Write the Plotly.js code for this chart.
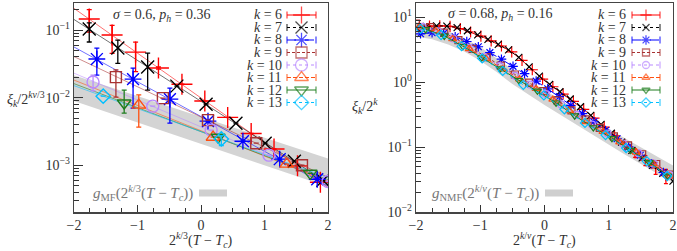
<!DOCTYPE html>
<html><head><meta charset="utf-8">
<script src="https://cdn.plot.ly/plotly-3.0.1.min.js"></script>
<style>html,body{margin:0;padding:0;background:#fff}#chart{width:677px;height:251px}</style>
</head><body><div id="chart"></div>
<script>
// ---------- series meta ----------
const kLabels = ['6','7','8','9','10','11','12','13'];
const colors = ['#ff0000','#000000','#0000ff','#a83232','#b98aff','#ff5010','#1e7d1e','#00bfff'];
const symbols = ['cross-thin-open','x-thin-open','asterisk-open','square-open','circle-open','triangle-up-open','triangle-down-open','diamond-open'];
const dashes = ['solid','dot','dash','3px,2px','dot','4px,2px','solid','dot'];

// ---------- LEFT panel data (sigma=0.6, ph=0.36) ----------
const leftX6 = [-1.76,-1.40,-1.03,-0.67,-0.30,0.06,0.42,0.79,1.15,1.52,1.88];
const leftY6 = [0.146,0.0843,0.0472,0.0274,0.0158,0.0089,0.0051,0.00295,0.00174,0.00098,0.00056];
const leftEp6 = [0.054,0.033,0.019,0.001,0,0,0,0,0,0,0];
const leftEm6 = [0.053,0.039,0.023,0.001,0,0,0,0,0,0,0];
const leftX7 = [-1.76,-1.31,-0.84,-0.38,0.08,0.55,1.01,1.47,1.92];
const leftY7 = [0.1035,0.0541,0.0283,0.0148,0.0080,0.00419,0.00212,0.00115,0.0006];
const leftEp7 = [0.024,0.017,0.0174,0,0,0,0,0,0];
const leftEm7 = [0.037,0.022,0.0154,0,0,0,0,0,0];
const leftX8 = [-1.64,-1.07,-0.49,0.11,0.66,1.24,1.83];
const leftY8 = [0.0372,0.0188,0.0095,0.00449,0.00227,0.00123,0.00062];
const leftEp8 = [0.0169,0.0086,0.0043,0,0,0,0];
const leftEm8 = [0.0157,0.0118,0.0053,0,0,0,0];
const leftX9 = [-1.34,-0.60,0.11,0.87,1.59];
const leftY9 = [0.0201,0.00984,0.00465,0.00212,0.0010];
const leftEp9 = [0.0056,0,0,0,0];
const leftEm9 = [0.0099,0,0,0,0];
const leftX10 = [-1.70,-0.76,0.16,1.07,2.0];
const leftY10 = [0.0170,0.00748,0.00331,0.00141,0.000575];
const leftEp10 = [0.0045,0,0,0,0];
const leftEm10 = [0.0044,0,0,0,0];
const leftX11 = [-0.98,0.19,1.35];
const leftY11 = [0.00776,0.0026,0.00104];
const leftEp11 = [0.0032,0,0];
const leftEm11 = [0.0041,0,0];
const leftX12 = [-1.21,0.27,1.72];
const leftY12 = [0.00832,0.0026,0.00076];
const leftEp12 = [0.0046,0,0];
const leftEm12 = [0.0024,0,0];
const leftX13 = [-1.54,0.32];
const leftY13 = [0.0105,0.00245];
const leftEp13 = [0,0.0003];
const leftEm13 = [0,0.0005];
const leftBandX = [-2, 2];
const leftBandHi = [0.0215, 0.00126];
const leftBandLo = [0.0089, 0.00048];

// ---------- RIGHT panel data (sigma=0.68, ph=0.16) ----------
const rightX6 = [-1.95,-1.79,-1.63,-1.47,-1.31,-1.15,-0.99,-0.83,-0.67,-0.51,-0.35,-0.19,-0.03,0.13,0.29,0.45,0.61,0.77,0.93,1.09,1.25,1.41,1.57,1.73,1.89];
const rightY6 = [7.0,7.26,7.33,7.19,6.65,5.89,5.08,4.31,3.59,2.92,2.16,1.55,1.11,0.849,0.656,0.507,0.382,0.279,0.204,0.149,0.110,0.0818,0.0632,0.0482,0.0366];
const rightE6 = [0,0,0,0,0,0,0,0,0,0,0,0,0,0,0,0,0,0,0,0,0.01,0.012,0.011,0.01,0.009];
const rightX7 = [-2.0,-1.84,-1.68,-1.52,-1.36,-1.2,-1.04,-0.88,-0.72,-0.56,-0.4,-0.24,-0.08,0.08,0.24,0.4,0.56,0.72,0.88,1.04,1.2,1.36,1.52,1.68,1.84,2.0];
const rightY7 = [6.92,7.18,7.33,7.26,6.89,6.17,5.32,4.53,3.80,3.13,2.40,1.72,1.24,0.925,0.711,0.550,0.419,0.308,0.225,0.164,0.120,0.0895,0.0686,0.0525,0.0398,0.0302];
const rightX8 = [-1.93,-1.75,-1.57,-1.39,-1.21,-1.03,-0.85,-0.67,-0.49,-0.31,-0.13,0.05,0.23,0.41,0.59,0.77,0.95,1.13,1.31,1.49,1.67,1.85];
const rightY8 = [5.53,5.73,5.62,4.98,4.21,3.50,2.84,2.25,1.75,1.35,1.035,0.789,0.598,0.44,0.329,0.246,0.181,0.135,0.101,0.0753,0.0558,0.0409];
const rightX9 = [-2.0,-1.78,-1.56,-1.34,-1.12,-0.9,-0.68,-0.46,-0.24,-0.02,0.2,0.42,0.64,0.86,1.08,1.3,1.52,1.74,1.96];
const rightY9 = [7.94,7.0,5.75,4.41,3.25,2.43,1.79,1.31,0.982,0.728,0.525,0.369,0.267,0.198,0.147,0.107,0.078,0.0552,0.038];
const rightX10 = [-1.9,-1.66,-1.42,-1.18,-0.94,-0.7,-0.46,-0.22,0.02,0.26,0.5,0.74,0.98,1.22,1.46,1.7,1.94];
const rightY10 = [7.08,6.03,4.68,3.37,2.44,1.76,1.25,0.914,0.656,0.455,0.313,0.222,0.162,0.114,0.0813,0.0562,0.0376];
const rightX11 = [-1.95,-1.69,-1.43,-1.17,-0.91,-0.65,-0.39,-0.13,0.13,0.39,0.65,0.91,1.17,1.43,1.69,1.95];
const rightY11 = [7.0,6.11,4.62,3.25,2.29,1.59,1.11,0.791,0.542,0.361,0.245,0.173,0.120,0.0834,0.0558,0.0361];
const rightX12 = [-1.85,-1.56,-1.27,-0.98,-0.69,-0.4,-0.11,0.18,0.47,0.76,1.05,1.34,1.63,1.92];
const rightY12 = [6.46,5.13,3.56,2.39,1.61,1.07,0.735,0.482,0.305,0.201,0.137,0.0904,0.0587,0.0363];
const rightX13 = [-1.93,-1.61,-1.29,-0.97,-0.65,-0.33,-0.01,0.31,0.63,0.95,1.27,1.59,1.91];
const rightY13 = [6.56,5.30,3.57,2.31,1.49,0.908,0.625,0.383,0.236,0.154,0.0973,0.0612,0.0361];
const rightBandX = [-2,-1.75,-1.5,-1.25,-1,-0.75,-0.5,-0.25,0,0.25,0.5,0.75,1,1.25,1.5,1.75,2];
const rightBandHi = [8.32,7.41,6.03,4.68,3.47,2.34,1.55,1.07,0.759,0.525,0.372,0.263,0.191,0.138,0.100,0.0724,0.0525];
const rightBandLo = [5.01,4.57,3.80,2.95,2.14,1.45,0.933,0.646,0.447,0.316,0.219,0.155,0.110,0.0776,0.0550,0.0389,0.0282];

// ---------- layout constants ----------
const W = 677, H = 251;
const px = p => p / W, py = p => 1 - p / H;
const serif = 'Liberation Serif, Times New Roman, serif';
const leftSets = [
  [leftX6,leftY6,leftEp6,leftEm6],[leftX7,leftY7,leftEp7,leftEm7],[leftX8,leftY8,leftEp8,leftEm8],
  [leftX9,leftY9,leftEp9,leftEm9],[leftX10,leftY10,leftEp10,leftEm10],[leftX11,leftY11,leftEp11,leftEm11],
  [leftX12,leftY12,leftEp12,leftEm12],[leftX13,leftY13,leftEp13,leftEm13]];
const rightSets = [[rightX6,rightY6,rightE6],[rightX7,rightY7],[rightX8,rightY8],[rightX9,rightY9],
  [rightX10,rightY10],[rightX11,rightY11],[rightX12,rightY12],[rightX13,rightY13]];
const leftSize = [15,13,14,11,12,12,12,11];
const rightSize = [8,7,8,7,7,7,7,7];

const traces = [];
// bands
traces.push({x: leftBandX.concat(leftBandX.slice().reverse()), y: leftBandHi.concat(leftBandLo.slice().reverse()),
  fill:'toself', fillcolor:'#d4d4d4', line:{width:0}, mode:'lines', hoverinfo:'skip', showlegend:false, xaxis:'x', yaxis:'y'});
traces.push({x: rightBandX.concat(rightBandX.slice().reverse()), y: rightBandHi.concat(rightBandLo.slice().reverse()),
  fill:'toself', fillcolor:'#d4d4d4', line:{width:0}, mode:'lines', hoverinfo:'skip', showlegend:false, xaxis:'x2', yaxis:'y2'});

// left fit lines (least squares in log10 space from the data)
leftSets.forEach((s, i) => {
  const xs = s[0], ls = s[1].map(v => Math.log10(v));
  const n = xs.length, mx = xs.reduce((a,b)=>a+b,0)/n, my = ls.reduce((a,b)=>a+b,0)/n;
  let sxy = 0, sxx = 0;
  for (let j = 0; j < n; j++) { sxy += (xs[j]-mx)*(ls[j]-my); sxx += (xs[j]-mx)**2; }
  const b = sxy / sxx, a = my - b*mx;
  const ends = [-2, 2];
  traces.push({x: ends, y: ends.map(x => Math.pow(10, a + b*x)), mode:'lines',
    line:{color:colors[i], width:0.8}, opacity:0.7, showlegend:false, hoverinfo:'skip', xaxis:'x', yaxis:'y'});
});
// left data
leftSets.forEach((s, i) => {
  traces.push({x: s[0], y: s[1], mode:'markers', xaxis:'x', yaxis:'y', showlegend:false,
    marker:{symbol:symbols[i], size:leftSize[i], color:colors[i], line:{color:colors[i], width:1.4}},
    error_y:{type:'data', symmetric:false, array:s[2], arrayminus:s[3], color:colors[i], thickness:1.3, width:2.5}});
});
// right data
rightSets.forEach((s, i) => {
  const t = {x: s[0], y: s[1], mode:'lines+markers', xaxis:'x2', yaxis:'y2', showlegend:false,
    line:{color:colors[i], width:1, dash:dashes[i]},
    marker:{symbol:symbols[i], size:rightSize[i], color:colors[i], line:{color:colors[i], width:1.2}}};
  if (s[2]) t.error_y = {type:'data', array:s[2], color:colors[i], thickness:1.2, width:2};
  traces.push(t);
});

// legends (drawn on an overlay pixel axis)
const legRowY0 = 15, legRowStep = 12.5;
const legends = [{textRight:283, x0:287, x1:316, sizes:leftSize}, {textRight:627, x0:632, x1:660, sizes:rightSize}];
const annotations = [];
legends.forEach(L => {
  kLabels.forEach((k, i) => {
    const yy = legRowY0 + i*legRowStep;
    const xm = (L.x0 + L.x1)/2;
    traces.push({x:[L.x0, xm, L.x1], y:[yy,yy,yy], mode:'lines+markers', xaxis:'x3', yaxis:'y3', showlegend:false, hoverinfo:'skip',
      line:{color:colors[i], width:1, dash:dashes[i]},
      marker:{symbol:['line-ns-open', symbols[i], 'line-ns-open'], size:[5, Math.min(L.sizes[i], 12), 5], color:colors[i], line:{color:colors[i], width:1.3}}});
    annotations.push({xref:'paper', yref:'paper', x:px(L.textRight), y:py(yy), xanchor:'right', yanchor:'middle', showarrow:false,
      borderpad:0, text:'<i>k</i> = ' + k, font:{family:serif, size:14, color:'#333'}});
  });
});

// text annotations
annotations.push(
  {xref:'paper', yref:'paper', x:px(162), y:py(16), xanchor:'center', yanchor:'middle', showarrow:false,
   text:'<i>σ</i> = 0.6, <i>p<sub>h</sub></i> = 0.36', font:{family:serif, size:14, color:'#333'}},
  {xref:'paper', yref:'paper', x:px(500), y:py(15), xanchor:'center', yanchor:'middle', showarrow:false,
   text:'<i>σ</i> = 0.68, <i>p<sub>h</sub></i> = 0.16', font:{family:serif, size:14, color:'#333'}},
  {xref:'paper', yref:'paper', x:px(195), y:py(193), xanchor:'right', yanchor:'middle', showarrow:false,
   text:'<i>g</i><sub>MF</sub>(2<sup><i>k</i>/3</sup>(<i>T</i> − <i>T<sub>c</sub></i>))', font:{family:serif, size:15, color:'#777'}},
  {xref:'paper', yref:'paper', x:px(541), y:py(193), xanchor:'right', yanchor:'middle', showarrow:false,
   text:'<i>g</i><sub>NMF</sub>(2<sup><i>k</i>/<i>ν</i></sup>(<i>T</i> − <i>T<sub>c</sub></i>))', font:{family:serif, size:15, color:'#777'}},
  {xref:'paper', yref:'paper', x:px(201), y:py(240), xanchor:'center', yanchor:'middle', showarrow:false,
   text:'2<sup><i>k</i>/3</sup>(<i>T</i> − <i>T<sub>c</sub></i>)', font:{family:serif, size:14, color:'#333'}},
  {xref:'paper', yref:'paper', x:px(544), y:py(240), xanchor:'center', yanchor:'middle', showarrow:false,
   text:'2<sup><i>k</i>/<i>ν</i></sup>(<i>T</i> − <i>T<sub>c</sub></i>)', font:{family:serif, size:14, color:'#333'}},
  {xref:'paper', yref:'paper', x:px(26), y:py(99), xanchor:'center', yanchor:'middle', showarrow:false,
   text:'<i>ξ<sub>k</sub></i>/2<sup><i>kν</i>/3</sup>', font:{family:serif, size:14, color:'#333'}},
  {xref:'paper', yref:'paper', x:px(365), y:py(106), xanchor:'center', yanchor:'middle', showarrow:false,
   text:'<i>ξ<sub>k</sub></i>/2<sup><i>k</i></sup>', font:{family:serif, size:14, color:'#333'}}
);

const shapes = [
  {type:'rect', xref:'paper', yref:'paper', x0:px(199), x1:px(227), y0:py(196.5), y1:py(189.5), fillcolor:'#cfcfcf', line:{width:0}},
  {type:'rect', xref:'paper', yref:'paper', x0:px(545), x1:px(573), y0:py(196.5), y1:py(189.5), fillcolor:'#cfcfcf', line:{width:0}}
];

const xTicks = [-2,-1,0,1,2];
const xAxisBase = {range:[-2,2], tickvals:xTicks, ticktext:['−2','−1','0','1','2'], ticks:'inside', ticklen:7, tickwidth:1,
  tickcolor:'#333', showline:true, mirror:true, linecolor:'#444', linewidth:1.3, showgrid:false, zeroline:false,
  minor:{ticks:'inside', ticklen:4, dtick:0.25, tickcolor:'#333', showgrid:false},
  tickfont:{family:serif, size:14, color:'#333'}, fixedrange:true};
const yAxisBase = {type:'log', ticks:'inside', ticklen:9, tickwidth:1, tickcolor:'#333', showline:true, mirror:true,
  linecolor:'#444', linewidth:1.3, showgrid:false, zeroline:false,
  minor:{ticks:'inside', ticklen:5, dtick:'D1', tickcolor:'#333', showgrid:false},
  tickfont:{family:serif, size:14, color:'#333'}, fixedrange:true};

const yDomain = [py(212.3), py(3)];
const layout = {
  width:W, height:H, margin:{l:0,r:0,t:0,b:0}, paper_bgcolor:'#fff', plot_bgcolor:'rgba(0,0,0,0)', showlegend:false,
  xaxis: Object.assign({}, xAxisBase, {domain:[px(74), px(328)], anchor:'y'}),
  yaxis: Object.assign({}, yAxisBase, {domain:yDomain, anchor:'x', range:[-3.696,-0.6],
    tickvals:[1e-3,1e-2,1e-1], ticktext:['10<sup>−3</sup>','10<sup>−2</sup>','10<sup>−1</sup>']}),
  xaxis2: Object.assign({}, xAxisBase, {domain:[px(416), px(673)], anchor:'y2'}),
  yaxis2: Object.assign({}, yAxisBase, {domain:yDomain, anchor:'x2', range:[-2,1.216],
    tickvals:[1e-2,1e-1,1,10], ticktext:['10<sup>−2</sup>','10<sup>−1</sup>','10<sup>0</sup>','10<sup>1</sup>']}),
  xaxis3: {domain:[0,1], range:[0,W], visible:false, anchor:'y3', fixedrange:true},
  yaxis3: {domain:[0,1], range:[H,0], visible:false, anchor:'x3', fixedrange:true},
  annotations: annotations, shapes: shapes
};
Plotly.newPlot('chart', traces, layout, {staticPlot:true, displayModeBar:false});
</script></body></html>
